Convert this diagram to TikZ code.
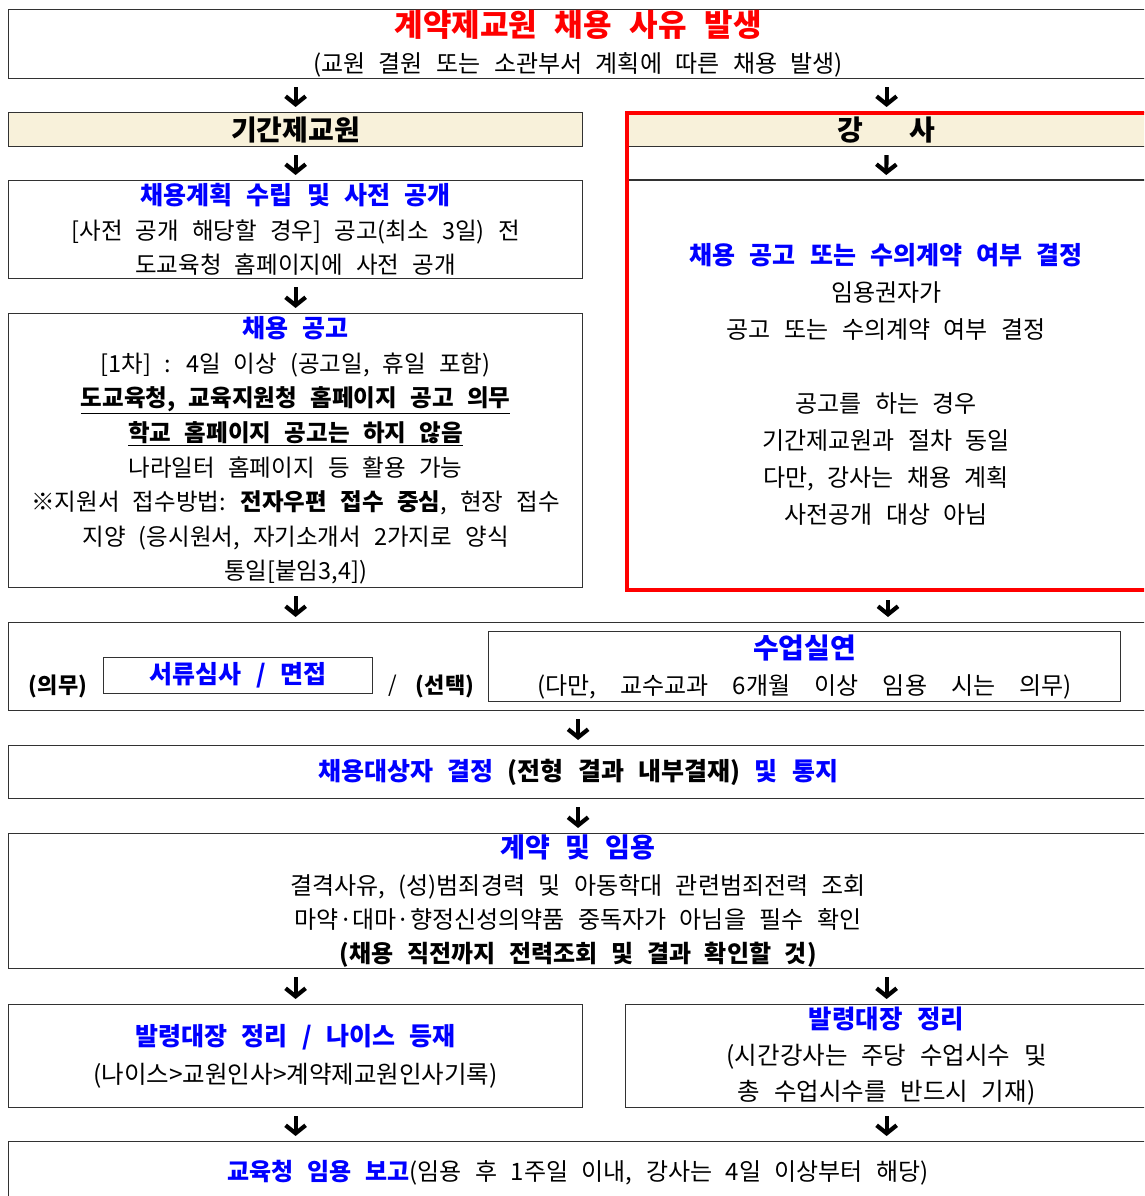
\documentclass[tikz,border=0pt]{standalone}
\usepackage{fontspec}
\setmainfont{Noto Sans CJK KR}[WordSpace=2.5]
\newfontfamily\widefont{Noto Sans CJK KR}[WordSpace=4.5]
\usetikzlibrary{arrows.meta}
\definecolor{hdrbeige}{RGB}{248,241,218}
\definecolor{boxline}{RGB}{50,50,50}
\newcommand{\bluehd}[2]{{\fontsize{#1}{30}\selectfont\color{blue}\bfseries #2}}
\begin{document}
\begin{tikzpicture}[x=1pt, y=-1pt,
    box/.style={draw=boxline, line width=1.2pt, anchor=north west, inner sep=0pt, align=center, font=\fontsize{23.5}{34.6}\selectfont},
    hdr/.style={box, fill=hdrbeige, font=\fontsize{28}{30}\selectfont\bfseries},
    arr/.style={line width=4.2pt, -{Straight Barb[length=8pt, width=20pt]}, shorten <=8pt, shorten >=5pt}]
  \clip (0,0) rectangle (1144,1196);
  \fill[white] (0,0) rectangle (1144,1196);

  \node[box, minimum width=1139pt, minimum height=69pt, font=\fontsize{24}{36}\selectfont] (occur) at (8,9)
    {{\fontsize{31}{30}\selectfont\bfseries\color{red}계약제교원 채용 사유 발생}\\(교원 결원 또는 소관부서 계획에 따른 채용 발생)};

  \node[hdr, minimum width=574pt, minimum height=34pt] (fixedterm) at (8,112) {기간제교원};
  \node[hdr, minimum width=522pt, minimum height=34pt] (lecthdr) at (625,112) {강\hspace{46pt}사};

  \node[box, minimum width=574pt, minimum height=98pt] (plan) at (8,180)
    {\bluehd{25}{채용계획 수립 및 사전 공개}\\{[}사전 공개 해당할 경우{]} 공고(최소 3일) 전\\도교육청 홈페이지에 사전 공개};

  \node[box, minimum width=574pt, minimum height=274pt] (notice) at (8,313)
    {\bluehd{25}{채용 공고}\\
     {[}1차{]} : 4일 이상 (공고일, 휴일 포함)\\
     \textbf{\underline{도교육청, 교육지원청 홈페이지 공고 의무}}\\
     \textbf{\underline{학교 홈페이지 공고는 하지 않음}}\\
     나라일터 홈페이지 등 활용 가능\\
     ※지원서 접수방법: \textbf{전자우편 접수 중심}, 현장 접수\\
     지양 (응시원서, 자기소개서 2가지로 양식\\
     통일{[}붙임3,4{]})};

  \node[anchor=north west, minimum width=522pt, minimum height=408pt, inner sep=0pt, align=center, font=\fontsize{24}{37}\selectfont] (lectdecide) at (625,180)
    {\bluehd{25}{채용 공고 또는 수의계약 여부 결정}\\
     임용권자가\\
     공고 또는 수의계약 여부 결정\\[37pt]
     공고를 하는 경우\\
     기간제교원과 절차 동일\\
     다만, 강사는 채용 계획\\
     사전공개 대상 아님};
  \draw[boxline, line width=1.2pt] (lectdecide.north west) -- (lectdecide.north east);
  \node[draw=red, line width=4pt, anchor=north west, minimum width=522pt, minimum height=477pt, inner sep=0pt] (lectframe) at (625,111) {};

  \node[box, minimum width=1139pt, minimum height=88pt] (screen) at (8,622) {};
  \node[draw=boxline, line width=1.2pt, anchor=north west, minimum width=269pt, minimum height=36pt, inner sep=0pt] (docs) at (103,657)
    {\bluehd{25}{서류심사 / 면접}};
  \node[font=\fontsize{22}{26}\selectfont\bfseries] (must) at (58,686) {(의무)};
  \node[font=\fontsize{22}{26}\selectfont] (slash) at (393,686) {/};
  \node[font=\fontsize{22}{26}\selectfont\bfseries] (choice) at (445,686) {(선택)};
  \node[draw=boxline, line width=1.2pt, anchor=north west, minimum width=632pt, minimum height=70pt, inner sep=0pt, align=center, font=\fontsize{24}{36}\selectfont] (demo) at (488,631)
    {\bluehd{28}{수업실연}\\{\widefont(다만, 교수교과 6개월 이상 임용 시는 의무)}};

  \node[box, minimum width=1139pt, minimum height=53pt, font=\fontsize{25}{30}\selectfont\bfseries] (decide) at (8,745)
    {{\color{blue}채용대상자 결정} (전형 결과 내부결재) {\color{blue}및 통지}};

  \node[box, minimum width=1139pt, minimum height=135pt, font=\fontsize{24}{34}\selectfont] (contract) at (8,833)
    {\bluehd{27}{계약 및 임용}\\[3pt]
     결격사유, (성)범죄경력 및 아동학대 관련범죄전력 조회\\
     마약·대마·향정신성의약품 중독자가 아님을 필수 확인\\
     \textbf{(채용 직전까지 전력조회 및 결과 확인할 것)}};

  \node[box, minimum width=574pt, minimum height=103pt, font=\fontsize{24.5}{38}\selectfont] (ledgerL) at (8,1004)
    {\bluehd{25}{발령대장 정리 / 나이스 등재}\\(나이스>교원인사>계약제교원인사기록)};
  \node[box, minimum width=522pt, minimum height=103pt, font=\fontsize{24.5}{36}\selectfont] (ledgerR) at (625,1004)
    {\bluehd{25.5}{발령대장 정리}\\(시간강사는 주당 수업시수 및\\총 수업시수를 반드시 기재)};

  \node[box, minimum width=1139pt, minimum height=62pt, font=\fontsize{24}{30}\selectfont] (report) at (8,1141)
    {\bluehd{24}{교육청 임용 보고}(임용 후 1주일 이내, 강사는 4일 이상부터 해당)};

  \draw[arr] (fixedterm.north |- occur.south) -- (fixedterm.north);
  \draw[arr] (lecthdr.north |- occur.south) -- (lecthdr.north);
  \draw[arr] (fixedterm.south) -- (plan.north);
  \draw[arr] (lecthdr.south) -- (lectdecide.north);
  \draw[arr] (plan.south) -- (notice.north);
  \draw[arr] (notice.south) -- (notice.south |- screen.north);
  \draw[arr] (lectframe.south) -- (lectframe.south |- screen.north);
  \draw[arr] (screen.south) -- (decide.north);
  \draw[arr] (decide.south) -- (contract.north);
  \draw[arr] (ledgerL.north |- contract.south) -- (ledgerL.north);
  \draw[arr] (ledgerR.north |- contract.south) -- (ledgerR.north);
  \draw[arr] (ledgerL.south) -- (ledgerL.south |- report.north);
  \draw[arr] (ledgerR.south) -- (ledgerR.south |- report.north);
\end{tikzpicture}
\end{document}
